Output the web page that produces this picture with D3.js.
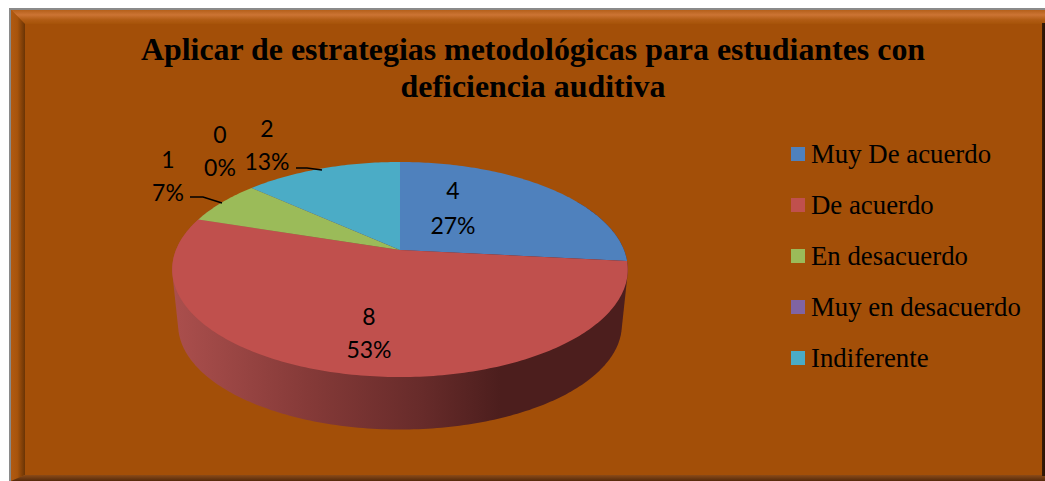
<!DOCTYPE html>
<html>
<head>
<meta charset="utf-8">
<script src="https://cdnjs.cloudflare.com/ajax/libs/d3/7.8.5/d3.min.js"></script>
<style>
body { margin: 0; background: #fff; }
svg { display: block; }
</style>
</head>
<body>
<svg id="g" width="1045" height="481"></svg>
<script>
const categories = ["Muy De acuerdo", "De acuerdo", "En desacuerdo", "Muy en desacuerdo", "Indiferente"];
const values = [4, 8, 1, 0, 2];
const percents = ["27%", "53%", "7%", "0%", "13%"];
const colors = ["#4f81bd", "#c0504d", "#9bbb59", "#8064a2", "#4bacc6"];
const titleLines = ["Aplicar de estrategias metodológicas para estudiantes con", "deficiencia auditiva"];

const svg = d3.select("#g");
const defs = svg.append("defs");

// frame
const bg = "#a34f08";
svg.append("rect").attr("x", 9).attr("y", 8).attr("width", 1036).attr("height", 473).attr("fill", "#8a8a8a");

function vgrad(id, dir, stops) {
    const g = defs.append("linearGradient").attr("id", id)
        .attr("x1", 0).attr("y1", 0)
        .attr("x2", dir == "h" ? 1 : 0).attr("y2", dir == "h" ? 0 : 1);
    stops.forEach(s => g.append("stop").attr("offset", s[0]).attr("stop-color", s[1]));
}
vgrad("topB", "v", [[0, "#b5601a"], [0.35, "#cc7434"], [0.7, "#b15c14"], [1, "#a65309"]]);
vgrad("leftB", "h", [[0, "#b05a12"], [0.45, "#a8540c"], [1, "#6a3405"]]);
vgrad("botB", "v", [[0, "#8b4a17"], [0.5, "#6f3a12"], [1, "#55290a"]]);
vgrad("rightB", "h", [[0, "#3a1c06"], [1, "#2a1304"]]);

const frame = svg.append("g");
frame.append("rect").attr("x", 11).attr("y", 10).attr("width", 1034).attr("height", 471).attr("fill", bg);
frame.append("polygon").attr("points", "11,10 1045,10 1045,24 25,24").attr("fill", "url(#topB)");
frame.append("polygon").attr("points", "11,10 25,24 25,475 11,481").attr("fill", "url(#leftB)");
frame.append("polygon").attr("points", "25,475 1045,475 1045,481 11,481").attr("fill", "url(#botB)");
frame.append("rect").attr("x", 1042).attr("y", 23).attr("width", 3).attr("height", 453).attr("fill", "url(#rightB)");

// title
svg.append("g").selectAll("text").data(titleLines).enter().append("text")
    .attr("x", 533)
    .attr("y", (d, i) => 60 + i * 37)
    .attr("text-anchor", "middle")
    .style("font-family", "'Liberation Serif', serif")
    .style("font-weight", "bold")
    .style("font-size", "31.9px")
    .attr("fill", "#000")
    .text(d => d);

// tilted pie: perspective projection of the unit circle
const cx = 400, apexY = 250, A = 224, B = 104, k = 0.1814;
function project(a, scale, yShift) {
    const u = Math.sin(a), v = -Math.cos(a);
    const den = 1 - k * v;
    return [cx + scale * A * u / den, apexY + yShift + scale * B * v / den];
}
const pie = d3.pie().sort(null).startAngle(0).endAngle(2 * Math.PI);
const arcs = pie(values);
const lineGen = d3.line();

// side wall
vgrad("side", "h", [[0, "#ab4f4d"], [0.3, "#853a38"], [0.55, "#672b2a"], [0.72, "#4c1e1d"], [1, "#4c1e1d"]]);
const bottomScale = 0.974, bottomShift = 55.8;
const rimTop = d3.range(60, 300.01, 1).map(d => project(d * Math.PI / 180, 1, 0));
const rimBot = d3.range(60, 300.01, 1).map(d => project(d * Math.PI / 180, bottomScale, bottomShift));
svg.append("path")
    .attr("d", lineGen(d3.polygonHull(rimTop.concat(rimBot))) + "Z")
    .attr("fill", "url(#side)");

// top faces
svg.append("g").selectAll("path").data(arcs).enter().append("path")
    .attr("d", d => {
        const n = Math.max(2, Math.ceil((d.endAngle - d.startAngle) * 60));
        const pts = [[cx, apexY]];
        for (let i = 0; i <= n; i++) {
            pts.push(project(d.startAngle + (d.endAngle - d.startAngle) * i / n, 1, 0));
        }
        return lineGen(pts) + "Z";
    })
    .attr("fill", (d, i) => colors[i]);

// data labels
const labelPos = [[453, 191, 226], [369, 317, 350], [168, 160, 193], [220, 135, 168], [267, 129, 162]];
const labels = svg.append("g").style("font-family", "Lato, Carlito, sans-serif").style("font-size", "23px").attr("fill", "#000");
labelPos.forEach((p, i) => {
    labels.append("text").attr("x", p[0]).attr("y", p[1] + 8).attr("text-anchor", "middle").text(values[i]);
    labels.append("text").attr("x", p[0]).attr("y", p[2] + 8).attr("text-anchor", "middle").text(percents[i]);
});

// leader lines
const leaders = [[[190, 197], [203, 197], [222, 203]], [[296, 168], [307, 168], [322, 170]]];
svg.append("g").selectAll("path").data(leaders).enter().append("path")
    .attr("d", d => lineGen(d))
    .attr("fill", "none").attr("stroke", "#000").attr("stroke-width", 1.5);

// legend
const legendY = d3.scalePoint().domain(categories).range([147, 351]);
const legend = svg.append("g").selectAll("g").data(categories).enter().append("g")
    .attr("transform", d => `translate(791,${legendY(d)})`);
legend.append("rect").attr("width", 14).attr("height", 14).attr("fill", (d, i) => colors[i]);
legend.append("text")
    .attr("x", 20).attr("y", 16)
    .style("font-family", "'Liberation Serif', serif")
    .style("font-size", "26.8px")
    .attr("fill", "#000")
    .text(d => d);
</script>
</body>
</html>
